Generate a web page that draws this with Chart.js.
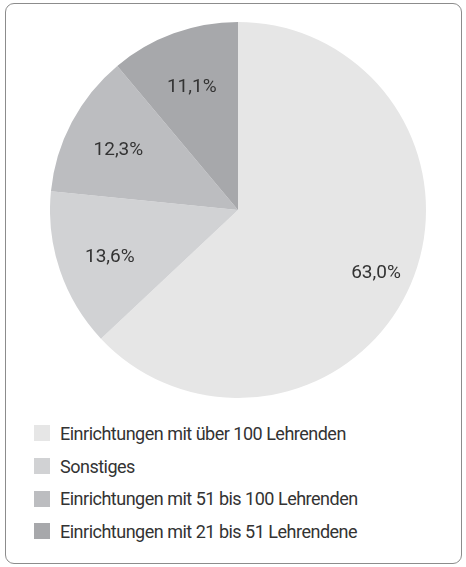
<!DOCTYPE html>
<html>
<head>
<meta charset="utf-8">
<script src="https://cdn.jsdelivr.net/npm/chart.js@4.4.0/dist/chart.umd.min.js"></script>
<style>
  html, body { margin: 0; padding: 0; background: #fff; }
  body { width: 466px; height: 567px; position: relative; overflow: hidden;
         font-family: Roboto, 'DejaVu Sans Condensed', sans-serif; }
  .frame { position: absolute; left: 5px; top: 3px; width: 455px; height: 559px;
           border: 1px solid #8c8c8c; border-radius: 9px; }
  .pie { position: absolute; left: 50px; top: 22px; width: 376px; height: 376px; }
  #legend { position: absolute; left: 34px; top: 417px; margin: 0; padding: 0; list-style: none; }
  #legend li { height: 32.7px; display: flex; align-items: center; font-size: 18px; font-weight: 400;
               color: #333; letter-spacing: -0.5px; }
  #legend span { display: inline-block; width: 16px; height: 16px; margin-right: 10px; }
</style>
</head>
<body>
<div class="frame"></div>
<div class="pie"><canvas id="pieChart" width="376" height="376"></canvas></div>
<ul id="legend"></ul>
<script>
const categories = [
  'Einrichtungen mit über 100 Lehrenden',
  'Sonstiges',
  'Einrichtungen mit 51 bis 100 Lehrenden',
  'Einrichtungen mit 21 bis 51 Lehrendene'
];
const shares = [63.0, 13.6, 12.3, 11.1];
const colors = ['#e6e6e6', '#d1d2d4', '#bcbdc0', '#a7a8ab'];

// percent labels inside the slices
const sliceLabels = {
  id: 'sliceLabels',
  afterDatasetsDraw(chart) {
    const { ctx } = chart;
    const meta = chart.getDatasetMeta(0);
    ctx.save();
    ctx.font = '19px Roboto, "DejaVu Sans Condensed", sans-serif';
    ctx.fillStyle = '#333';
    ctx.textAlign = 'center';
    ctx.textBaseline = 'middle';
    meta.data.forEach((arc, i) => {
      const mid = (arc.startAngle + arc.endAngle) / 2;
      const r = arc.outerRadius * (i === 0 ? 0.8 : 0.72);
      const x = arc.x + Math.cos(mid) * r;
      const y = arc.y + Math.sin(mid) * r + 4;
      ctx.fillText(shares[i].toFixed(1).replace('.', ',') + '%', x, y);
    });
    ctx.restore();
  }
};

new Chart(document.getElementById('pieChart'), {
  type: 'pie',
  data: {
    labels: categories,
    datasets: [{
      data: shares,
      backgroundColor: colors,
      borderWidth: 0
    }]
  },
  options: {
    responsive: false,
    animation: false,
    layout: { padding: 0 },
    plugins: {
      legend: { display: false },
      tooltip: { enabled: false }
    }
  },
  plugins: [sliceLabels]
});

const legend = document.getElementById('legend');
categories.forEach((c, i) => {
  const li = document.createElement('li');
  li.innerHTML = `<span style="background:${colors[i]}"></span>${c}`;
  legend.appendChild(li);
});
</script>
</body>
</html>
